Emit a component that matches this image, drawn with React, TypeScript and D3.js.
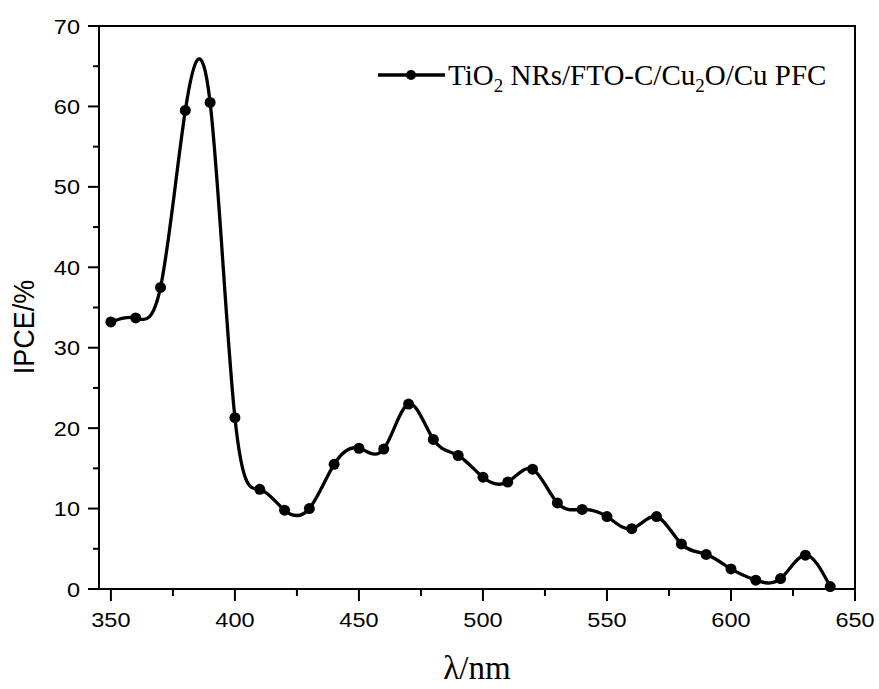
import React from 'react';
import * as d3 from 'd3';

// wavelength (nm) and IPCE (%)
const wavelengths = [350, 360, 370, 380, 390, 400, 410, 420, 430, 440, 450, 460, 470, 480, 490, 500, 510, 520, 530, 540, 550, 560, 570, 580, 590, 600, 610, 620, 630, 640];
const ipce = [33.2, 33.7, 37.5, 59.5, 60.5, 21.3, 12.4, 9.8, 10.0, 15.5, 17.5, 17.4, 23.0, 18.6, 16.6, 13.9, 13.3, 14.9, 10.7, 9.9, 9.0, 7.5, 9.0, 5.6, 4.3, 2.5, 1.1, 1.3, 4.2, 0.3];

const xMajor = [350, 400, 450, 500, 550, 600, 650];
const xMinor = [375, 425, 475, 525, 575, 625];
const yMajor = [0, 10, 20, 30, 40, 50, 60, 70];
const yMinor = [5, 15, 25, 35, 45, 55, 65];

const W = 879;
const H = 689;
const plot = { left: 99, right: 855, top: 26, bottom: 589 };

export default function App() {
  const x = d3.scaleLinear().domain([345.2, 650]).range([plot.left, plot.right]);
  const y = d3.scaleLinear().domain([0, 70]).range([plot.bottom, plot.top]);

  const data = wavelengths.map((w, i) => ({ w, v: ipce[i] }));
  const line = d3
    .line<{ w: number; v: number }>()
    .x((d) => x(d.w))
    .y((d) => y(d.v))
    .curve(d3.curveNatural);

  const tickFont = 'Arial, "Liberation Sans", sans-serif';
  const serif = '"Times New Roman", "Liberation Serif", serif';

  return (
    <div style={{ position: 'fixed', left: 0, top: 0 }}>
      <svg width={W} height={H} style={{ display: 'block', background: '#fff' }}>
        {/* frame */}
        <rect
          x={plot.left}
          y={plot.top}
          width={plot.right - plot.left}
          height={plot.bottom - plot.top}
          fill="none"
          stroke="#000"
          strokeWidth={2}
        />

        {/* y axis ticks */}
        {yMajor.map((t) => (
          <g key={'ym' + t}>
            <line x1={plot.left - 11} x2={plot.left} y1={y(t)} y2={y(t)} stroke="#000" strokeWidth={2} />
            <text
              transform={`translate(${plot.left - 19},${y(t)}) scale(1.12,1)`}
              dy="0.36em"
              textAnchor="end"
              fontFamily={tickFont}
              fontSize={21}
            >
              {t}
            </text>
          </g>
        ))}
        {yMinor.map((t) => (
          <line key={'yn' + t} x1={plot.left - 6} x2={plot.left} y1={y(t)} y2={y(t)} stroke="#000" strokeWidth={2} />
        ))}

        {/* x axis ticks */}
        {xMajor.map((t) => (
          <g key={'xm' + t}>
            <line x1={x(t)} x2={x(t)} y1={plot.bottom} y2={plot.bottom + 12} stroke="#000" strokeWidth={2} />
            <text
              transform={`translate(${x(t)},627) scale(1.12,1)`}
              textAnchor="middle"
              fontFamily={tickFont}
              fontSize={21}
            >
              {t}
            </text>
          </g>
        ))}
        {xMinor.map((t) => (
          <line key={'xn' + t} x1={x(t)} x2={x(t)} y1={plot.bottom} y2={plot.bottom + 7} stroke="#000" strokeWidth={2} />
        ))}

        {/* axis titles */}
        <text
          transform="translate(34,327) rotate(-90) scale(1,1.1)"
          textAnchor="middle"
          fontFamily={tickFont}
          fontSize={27}
        >
          IPCE/%
        </text>
        <text x={477} y={679} textAnchor="middle" fontFamily={serif} fontSize={33}>
          λ/nm
        </text>

        {/* series */}
        <path d={line(data) || ''} fill="none" stroke="#000" strokeWidth={3.3} strokeLinejoin="round" />
        {data.map((d) => (
          <circle key={d.w} cx={x(d.w)} cy={y(d.v)} r={5.5} fill="#000" />
        ))}

        {/* legend */}
        <line x1={378} x2={445} y1={75} y2={75} stroke="#000" strokeWidth={3.3} />
        <circle cx={411} cy={75} r={5} fill="#000" />
        <text x={448} y={85} fontFamily={serif} fontSize={29}>
          TiO<tspan fontSize={19} dy={7}>2</tspan>
          <tspan dy={-7}> NRs/FTO-C/Cu</tspan>
          <tspan fontSize={19} dy={7}>2</tspan>
          <tspan dy={-7}>O/Cu PFC</tspan>
        </text>
      </svg>
    </div>
  );
}
